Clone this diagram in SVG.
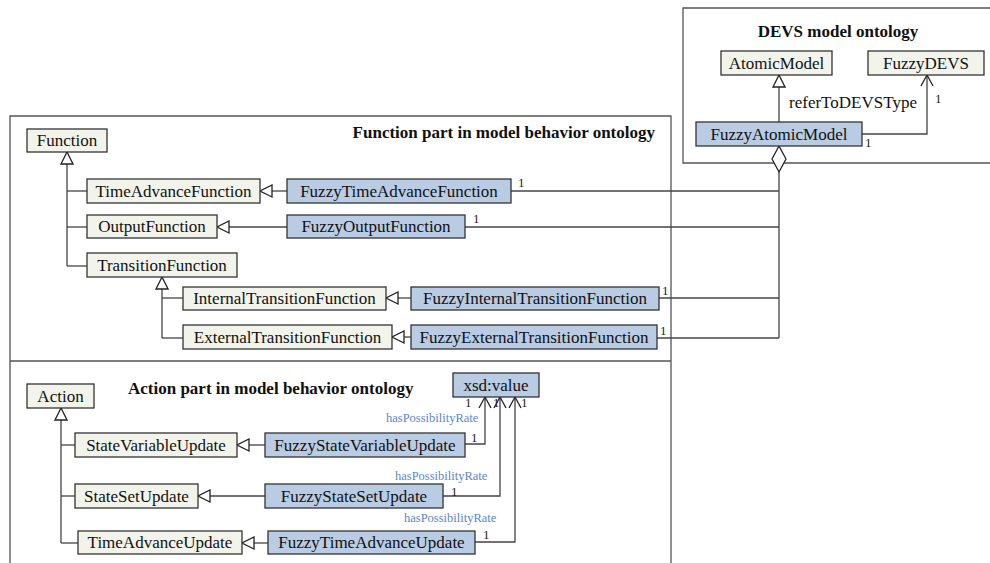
<svg xmlns="http://www.w3.org/2000/svg" width="990" height="563" viewBox="0 0 990 563">
  <defs>
    <style>
      .frame { fill: none; stroke: #555; stroke-width: 1.3; }
      .cls { fill: #f2f4ec; stroke: #333; stroke-width: 1.3; }
      .fz { fill: #b9cce4; stroke: #333; stroke-width: 1.3; }
      .lbl { font-family: "Liberation Serif", "Times New Roman", serif; font-size: 17px; fill: #111; text-anchor: middle; }
      .title { font-family: "Liberation Serif", "Times New Roman", serif; font-size: 17px; font-weight: bold; fill: #111; }
      .mult { font-family: "Liberation Serif", "Times New Roman", serif; font-size: 13px; fill: #222; }
      .role { font-family: "Liberation Serif", "Times New Roman", serif; font-size: 12.5px; fill: #5b86cf; }
      .ln { fill: none; stroke: #444; stroke-width: 1.3; }
    </style>
    <!-- hollow triangle: generalization -->
    <marker id="gen" viewBox="0 0 14 14" refX="13" refY="7" markerWidth="14" markerHeight="14" markerUnits="userSpaceOnUse" orient="auto">
      <path d="M1,1 L13,7 L1,13 Z" fill="#fff" stroke="#222" stroke-width="1.3"/>
    </marker>
    <!-- open arrow: association -->
    <marker id="open" viewBox="0 0 14 14" refX="13" refY="7" markerWidth="14" markerHeight="14" markerUnits="userSpaceOnUse" orient="auto">
      <path d="M2,1 L13,7 L2,13" fill="none" stroke="#222" stroke-width="1.3"/>
    </marker>
  </defs>

  <!-- containers -->
  <g id="devs-frame">
    <path class="frame" d="M995,8 H683 V163 H995"/>
    <text class="title" x="838" y="37" text-anchor="middle">DEVS model ontology</text>
  </g>
  <g id="behavior-frame">
    <path class="frame" d="M10,570 V116 H671 V570"/>
    <line class="frame" x1="10" y1="361" x2="671" y2="361"/>
    <text class="title" x="655" y="138" text-anchor="end">Function part in model behavior ontology</text>
    <text class="title" x="128" y="394">Action part in model behavior ontology</text>
  </g>

  <!-- connectors -->
  <g id="connectors">
    <!-- DEVS -->
    <path class="ln" d="M779,122 V75" marker-end="url(#gen)"/>
    <path class="ln" d="M862,134 H927 V75" marker-end="url(#open)"/>
    <path d="M779,146 L786,159 L779,172 L772,159 Z" fill="#fff" stroke="#222" stroke-width="1.3"/>
    <path class="ln" d="M779,172 V338"/>
    <path class="ln" d="M511,191 H779"/>
    <path class="ln" d="M465,227 H779"/>
    <path class="ln" d="M659,298 H779"/>
    <path class="ln" d="M657,338 H779"/>

    <!-- Function hierarchy -->
    <path class="ln" d="M67,266 V152" marker-end="url(#gen)"/>
    <path class="ln" d="M67,191 H87"/>
    <path class="ln" d="M67,227 H87"/>
    <path class="ln" d="M67,266 H87"/>
    <path class="ln" d="M162,338 V277" marker-end="url(#gen)"/>
    <path class="ln" d="M162,298 H183"/>
    <path class="ln" d="M162,338 H183"/>
    <path class="ln" d="M287,191 H260" marker-end="url(#gen)"/>
    <path class="ln" d="M287,227 H217" marker-end="url(#gen)"/>
    <path class="ln" d="M411,298 H386" marker-end="url(#gen)"/>
    <path class="ln" d="M411,337 H392" marker-end="url(#gen)"/>

    <!-- Action hierarchy -->
    <path class="ln" d="M61,543 V408" marker-end="url(#gen)"/>
    <path class="ln" d="M61,445 H75"/>
    <path class="ln" d="M61,496 H75"/>
    <path class="ln" d="M61,543 H78"/>
    <path class="ln" d="M265,445 H237" marker-end="url(#gen)"/>
    <path class="ln" d="M265,496 H198" marker-end="url(#gen)"/>
    <path class="ln" d="M268,543 H242" marker-end="url(#gen)"/>

    <!-- hasPossibilityRate -->
    <path class="ln" d="M465,444 H485 V397" marker-end="url(#open)"/>
    <path class="ln" d="M443,496 H500 V397" marker-end="url(#open)"/>
    <path class="ln" d="M475,542 H515 V397" marker-end="url(#open)"/>
  </g>

  <!-- connector labels -->
  <g id="labels">
    <text class="lbl" x="853" y="108">referToDEVSType</text>
    <text class="mult" x="935" y="103">1</text>
    <text class="mult" x="865" y="147">1</text>
    <text class="mult" x="518" y="187">1</text>
    <text class="mult" x="473" y="223">1</text>
    <text class="mult" x="662" y="295">1</text>
    <text class="mult" x="660" y="335">1</text>
    <text class="role" x="386" y="422">hasPossibilityRate</text>
    <text class="role" x="395" y="480">hasPossibilityRate</text>
    <text class="role" x="404" y="522">hasPossibilityRate</text>
    <text class="mult" x="465" y="407">1</text>
    <text class="mult" x="493" y="407">1</text>
    <text class="mult" x="521" y="407">1</text>
    <text class="mult" x="471" y="442">1</text>
    <text class="mult" x="451" y="496">1</text>
    <text class="mult" x="483" y="539">1</text>
  </g>

  <!-- DEVS nodes -->
  <g id="AtomicModel"><rect class="cls" x="721" y="51" width="111" height="24"/><text class="lbl" x="776.5" y="69">AtomicModel</text></g>
  <g id="FuzzyDEVS"><rect class="cls" x="868" y="51" width="116" height="24"/><text class="lbl" x="926" y="69">FuzzyDEVS</text></g>
  <g id="FuzzyAtomicModel"><rect class="fz" x="696" y="122" width="166" height="24"/><text class="lbl" x="779" y="140">FuzzyAtomicModel</text></g>

  <!-- Function nodes -->
  <g id="Function"><rect class="cls" x="27" y="129" width="80" height="23"/><text class="lbl" x="67" y="146">Function</text></g>
  <g id="TimeAdvanceFunction"><rect class="cls" x="87" y="179" width="173" height="24"/><text class="lbl" x="173.5" y="197">TimeAdvanceFunction</text></g>
  <g id="OutputFunction"><rect class="cls" x="87" y="215" width="130" height="23"/><text class="lbl" x="152" y="232">OutputFunction</text></g>
  <g id="TransitionFunction"><rect class="cls" x="87" y="253" width="150" height="24"/><text class="lbl" x="162" y="271">TransitionFunction</text></g>
  <g id="InternalTransitionFunction"><rect class="cls" x="183" y="287" width="203" height="23"/><text class="lbl" x="284.5" y="304">InternalTransitionFunction</text></g>
  <g id="ExternalTransitionFunction"><rect class="cls" x="183" y="325" width="209" height="24"/><text class="lbl" x="287.5" y="343">ExternalTransitionFunction</text></g>
  <g id="FuzzyTimeAdvanceFunction"><rect class="fz" x="287" y="179" width="224" height="24"/><text class="lbl" x="399" y="197">FuzzyTimeAdvanceFunction</text></g>
  <g id="FuzzyOutputFunction"><rect class="fz" x="287" y="215" width="178" height="23"/><text class="lbl" x="376" y="232">FuzzyOutputFunction</text></g>
  <g id="FuzzyInternalTransitionFunction"><rect class="fz" x="411" y="287" width="248" height="23"/><text class="lbl" x="535" y="304">FuzzyInternalTransitionFunction</text></g>
  <g id="FuzzyExternalTransitionFunction"><rect class="fz" x="411" y="325" width="246" height="24"/><text class="lbl" x="534" y="343">FuzzyExternalTransitionFunction</text></g>

  <!-- Action nodes -->
  <g id="Action"><rect class="cls" x="27" y="384" width="67" height="24"/><text class="lbl" x="60.5" y="402">Action</text></g>
  <g id="StateVariableUpdate"><rect class="cls" x="75" y="433" width="162" height="24"/><text class="lbl" x="156" y="451">StateVariableUpdate</text></g>
  <g id="StateSetUpdate"><rect class="cls" x="75" y="484" width="123" height="24"/><text class="lbl" x="136.5" y="502">StateSetUpdate</text></g>
  <g id="TimeAdvanceUpdate"><rect class="cls" x="78" y="531" width="164" height="23"/><text class="lbl" x="160" y="548">TimeAdvanceUpdate</text></g>
  <g id="FuzzyStateVariableUpdate"><rect class="fz" x="265" y="433" width="200" height="24"/><text class="lbl" x="365" y="451">FuzzyStateVariableUpdate</text></g>
  <g id="FuzzyStateSetUpdate"><rect class="fz" x="265" y="484" width="178" height="24"/><text class="lbl" x="354" y="502">FuzzyStateSetUpdate</text></g>
  <g id="FuzzyTimeAdvanceUpdate"><rect class="fz" x="268" y="531" width="207" height="23"/><text class="lbl" x="371.5" y="548">FuzzyTimeAdvanceUpdate</text></g>
  <g id="xsd-value"><rect class="fz" x="453" y="373" width="86" height="24"/><text class="lbl" x="496" y="391">xsd:value</text></g>
</svg>
